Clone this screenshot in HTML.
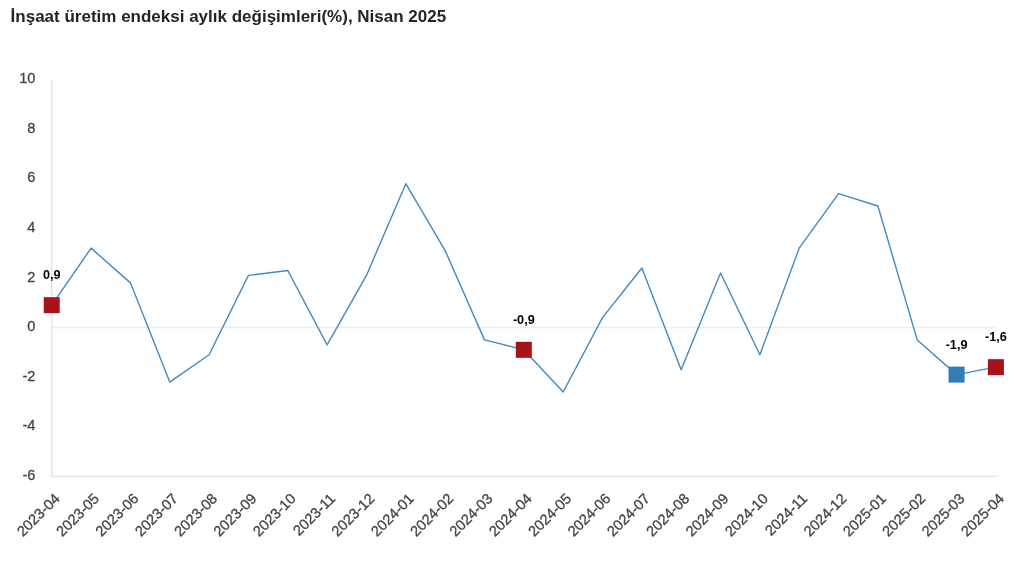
<!DOCTYPE html>
<html lang="tr">
<head>
<meta charset="utf-8">
<title>İnşaat üretim endeksi</title>
<style>
html,body{margin:0;padding:0;background:#fff;}
body{width:1024px;height:562px;overflow:hidden;font-family:"Liberation Sans",sans-serif;}
svg{display:block;will-change:transform;}
text{font-family:"Liberation Sans",sans-serif;}
.title{font-weight:bold;fill:#212529;}
.yl{fill:#444;stroke:#444;stroke-width:0.3;text-anchor:end;}
.xl{fill:#444;stroke:#444;stroke-width:0.3;text-anchor:end;}
.dl{fill:#000;font-weight:bold;text-anchor:middle;}
</style>
</head>
<body>
<svg width="1024" height="562" viewBox="0 0 1024 562">
<rect x="0" y="0" width="1024" height="562" fill="#ffffff"/>
<text class="title" x="10.6" y="21.6" font-size="17" letter-spacing="0">İnşaat üretim endeksi aylık değişimleri(%), Nisan 2025</text>
<g stroke="#e6e6e6" stroke-width="1.5" fill="none">
<line x1="51.75" y1="79.2" x2="51.75" y2="477.25"/>
<line x1="51.75" y1="476.5" x2="996.4" y2="476.5"/>
</g>
<line x1="51.75" y1="327.5" x2="996.4" y2="327.5" stroke="#ececec" stroke-width="1.4"/>
<g font-size="14.6">
<text class="yl" x="35.4" y="83.20">10</text>
<text class="yl" x="35.4" y="132.80">8</text>
<text class="yl" x="35.4" y="182.40">6</text>
<text class="yl" x="35.4" y="232.00">4</text>
<text class="yl" x="35.4" y="281.60">2</text>
<text class="yl" x="35.4" y="331.20">0</text>
<text class="yl" x="35.4" y="380.80">-2</text>
<text class="yl" x="35.4" y="430.40">-4</text>
<text class="yl" x="35.4" y="480.00">-6</text>
</g>
<g font-size="14.6">
<text class="xl" transform="translate(60.75,499.40) rotate(-45)">2023-04</text>
<text class="xl" transform="translate(100.09,499.40) rotate(-45)">2023-05</text>
<text class="xl" transform="translate(139.43,499.40) rotate(-45)">2023-06</text>
<text class="xl" transform="translate(178.77,499.40) rotate(-45)">2023-07</text>
<text class="xl" transform="translate(218.11,499.40) rotate(-45)">2023-08</text>
<text class="xl" transform="translate(257.45,499.40) rotate(-45)">2023-09</text>
<text class="xl" transform="translate(296.79,499.40) rotate(-45)">2023-10</text>
<text class="xl" transform="translate(336.13,499.40) rotate(-45)">2023-11</text>
<text class="xl" transform="translate(375.47,499.40) rotate(-45)">2023-12</text>
<text class="xl" transform="translate(414.81,499.40) rotate(-45)">2024-01</text>
<text class="xl" transform="translate(454.15,499.40) rotate(-45)">2024-02</text>
<text class="xl" transform="translate(493.49,499.40) rotate(-45)">2024-03</text>
<text class="xl" transform="translate(532.83,499.40) rotate(-45)">2024-04</text>
<text class="xl" transform="translate(572.17,499.40) rotate(-45)">2024-05</text>
<text class="xl" transform="translate(611.51,499.40) rotate(-45)">2024-06</text>
<text class="xl" transform="translate(650.85,499.40) rotate(-45)">2024-07</text>
<text class="xl" transform="translate(690.19,499.40) rotate(-45)">2024-08</text>
<text class="xl" transform="translate(729.53,499.40) rotate(-45)">2024-09</text>
<text class="xl" transform="translate(768.87,499.40) rotate(-45)">2024-10</text>
<text class="xl" transform="translate(808.21,499.40) rotate(-45)">2024-11</text>
<text class="xl" transform="translate(847.55,499.40) rotate(-45)">2024-12</text>
<text class="xl" transform="translate(886.89,499.40) rotate(-45)">2025-01</text>
<text class="xl" transform="translate(926.23,499.40) rotate(-45)">2025-02</text>
<text class="xl" transform="translate(965.57,499.40) rotate(-45)">2025-03</text>
<text class="xl" transform="translate(1004.91,499.40) rotate(-45)">2025-04</text>
</g>
<polyline points="51.75,305.18 91.09,248.14 130.43,282.86 169.77,382.06 209.11,354.78 248.45,275.42 287.79,270.46 327.13,344.86 366.47,275.42 405.81,183.66 445.15,250.62 484.49,339.90 523.83,349.82 563.17,391.98 602.51,317.58 641.85,267.98 681.19,369.66 720.53,272.94 759.87,354.78 799.21,248.14 838.55,193.58 877.89,205.98 917.23,339.90 956.57,374.62 995.91,367.18" fill="none" stroke="#4489c1" stroke-width="1.4" stroke-linejoin="round" stroke-linecap="round"/>
<rect x="43.75" y="297.18" width="16" height="16" fill="#a8131b"/>
<rect x="515.83" y="341.82" width="16" height="16" fill="#a8131b"/>
<rect x="948.57" y="366.62" width="16" height="16" fill="#2f7ebc"/>
<rect x="987.91" y="359.18" width="16" height="16" fill="#a8131b"/>
<g font-size="12.7">
<text class="dl" x="51.75" y="279.38">0,9</text>
<text class="dl" x="523.83" y="324.02">-0,9</text>
<text class="dl" x="956.57" y="348.82">-1,9</text>
<text class="dl" x="995.91" y="341.38">-1,6</text>
</g>
</svg>
</body>
</html>
